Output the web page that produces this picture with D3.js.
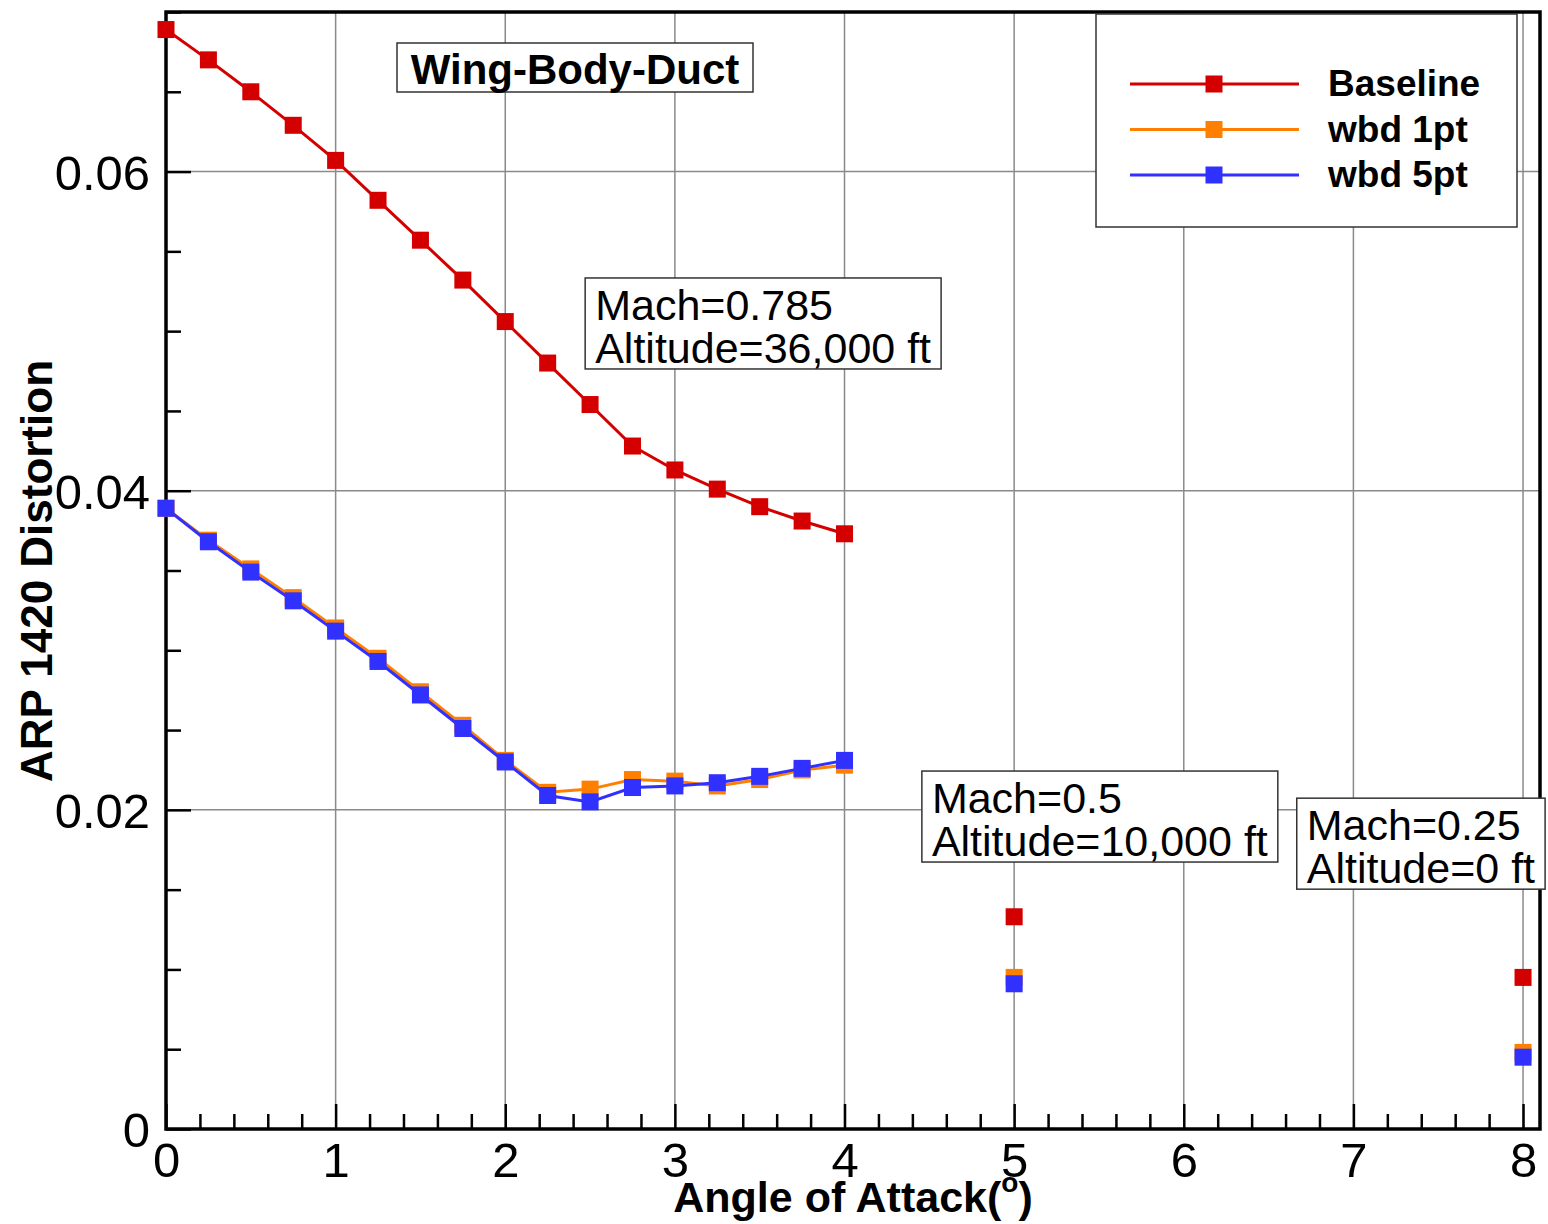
<!DOCTYPE html>
<html>
<head>
<meta charset="utf-8">
<script src="https://cdn.jsdelivr.net/npm/d3@7"></script>
<style>
  body { margin: 0; background: #fff; }
  text { font-family: "Liberation Sans", Arial, Helvetica, sans-serif; }
</style>
</head>
<body>
<svg id="chart" width="1548" height="1224"></svg>
<script>

// angle sweep at cruise (Mach 0.785)
const sweepAoA = [0, 0.25, 0.5, 0.75, 1, 1.25, 1.5, 1.75, 2, 2.25, 2.5, 2.75, 3, 3.25, 3.5, 3.75, 4];
const baseline = [0.0689, 0.0670, 0.0650, 0.0629, 0.0607, 0.0582, 0.0557, 0.0532, 0.0506, 0.0480, 0.0454, 0.0428, 0.0413, 0.0401, 0.0390, 0.0381, 0.0373];
const wbd1pt   = [0.0389, 0.0369, 0.0351, 0.0333, 0.0314, 0.0295, 0.0274, 0.0253, 0.0231, 0.0211, 0.0213, 0.0219, 0.0218, 0.0215, 0.0219, 0.0225, 0.0228];
const wbd5pt   = [0.0389, 0.0368, 0.0349, 0.0331, 0.0312, 0.0293, 0.0272, 0.0251, 0.0230, 0.0209, 0.0205, 0.0214, 0.0215, 0.0217, 0.0221, 0.0226, 0.0231];

// single off-design points (Mach 0.5 and Mach 0.25)
const pointAoA       = [5, 8];
const baselinePts    = [0.0133, 0.0095];
const wbd1ptPts      = [0.0095, 0.0048];
const wbd5ptPts      = [0.0091, 0.0045];

const seriesNames  = ["Baseline", "wbd 1pt", "wbd 5pt"];
const seriesColors = ["#d40000", "#ff8000", "#3030ff"];

const xMajor = [0, 1, 2, 3, 4, 5, 6, 7, 8];
const yMajor = [0, 0.02, 0.04, 0.06];

const annotations = [
  { lines: ["Mach=0.785", "Altitude=36,000 ft"], x: 2.53, y: 0.0507 },
  { lines: ["Mach=0.5", "Altitude=10,000 ft"], x: 4.515, y: 0.0198 },
  { lines: ["Mach=0.25", "Altitude=0 ft"], x: 6.725, y: 0.0181 }
];

const svg = d3.select("#chart");

const plotLeft = 166, plotRight = 1540, plotTop = 12, plotBottom = 1129;

const xScale = d3.scaleLinear().domain([0, 8.1]).range([plotLeft, plotRight]);
const yScale = d3.scaleLinear().domain([0, 0.07]).range([plotBottom, plotTop]);

const gridColor = "#8a8a8a";

// grid
svg.append("g")
  .selectAll("line")
  .data(xMajor.filter(d => d > 0))
  .join("line")
    .attr("x1", d => xScale(d))
    .attr("x2", d => xScale(d))
    .attr("y1", plotTop)
    .attr("y2", plotBottom)
    .attr("stroke", gridColor)
    .attr("stroke-width", 1.5);

svg.append("g")
  .selectAll("line")
  .data(yMajor.filter(d => d > 0))
  .join("line")
    .attr("x1", plotLeft)
    .attr("x2", plotRight)
    .attr("y1", d => yScale(d))
    .attr("y2", d => yScale(d))
    .attr("stroke", gridColor)
    .attr("stroke-width", 1.5);

// axes: ticks point inward
const xMinor = d3.range(0, 8.01, 0.2).filter(d => Math.abs(d - Math.round(d)) > 1e-6);
const yMinor = d3.range(0, 0.0701, 0.005).filter(d => Math.abs(d / 0.02 - Math.round(d / 0.02)) > 1e-6);

const xAxis = svg.append("g")
  .attr("transform", `translate(0, ${plotBottom})`)
  .call(d3.axisBottom(xScale).tickValues(xMajor).tickSize(-25).tickFormat(d3.format("d")));

svg.append("g")
  .attr("transform", `translate(0, ${plotBottom})`)
  .call(d3.axisBottom(xScale).tickValues(xMinor).tickSize(-15).tickFormat(""))
  .call(g => g.select(".domain").remove());

const yAxis = svg.append("g")
  .attr("transform", `translate(${plotLeft}, 0)`)
  .call(d3.axisLeft(yScale).tickValues(yMajor).tickSize(-25).tickFormat(d => d === 0 ? "0" : d3.format(".2f")(d)));

svg.append("g")
  .attr("transform", `translate(${plotLeft}, 0)`)
  .call(d3.axisLeft(yScale).tickValues(yMinor).tickSize(-15).tickFormat(""))
  .call(g => g.select(".domain").remove());

svg.selectAll(".tick line").attr("stroke", "#000").attr("stroke-width", 2.5);

xAxis.selectAll(".tick text")
  .attr("y", 48)
  .attr("dy", null)
  .attr("font-size", 49)
  .attr("fill", "#000");

yAxis.selectAll(".tick text")
  .attr("x", -16)
  .attr("dy", "0.36em")
  .attr("font-size", 49)
  .attr("fill", "#000");

svg.selectAll(".domain").remove();

// frame
svg.append("rect")
  .attr("x", plotLeft)
  .attr("y", plotTop)
  .attr("width", plotRight - plotLeft)
  .attr("height", plotBottom - plotTop)
  .attr("fill", "none")
  .attr("stroke", "#000")
  .attr("stroke-width", 3.5);

// axis titles
const xTitle = svg.append("text")
  .attr("x", 853)
  .attr("y", 1212)
  .attr("text-anchor", "middle")
  .attr("font-size", 43)
  .attr("font-weight", "bold")
  .text("Angle of Attack(");
xTitle.append("tspan")
  .attr("dy", -20)
  .attr("font-size", 28)
  .text("o");
xTitle.append("tspan")
  .attr("dy", 20)
  .text(")");

svg.append("text")
  .attr("transform", "translate(52, 571) rotate(-90)")
  .attr("text-anchor", "middle")
  .attr("font-size", 44)
  .attr("font-weight", "bold")
  .text("ARP 1420 Distortion");

// data
const sweepSets = [baseline, wbd1pt, wbd5pt];
const pointSets = [baselinePts, wbd1ptPts, wbd5ptPts];
const markerSize = 17;

const line = d3.line()
  .x(d => xScale(d[0]))
  .y(d => yScale(d[1]));

sweepSets.forEach((vals, i) => {
  const sweep = sweepAoA.map((a, j) => [a, vals[j]]);
  const pts = pointAoA.map((a, j) => [a, pointSets[i][j]]);
  const g = svg.append("g");

  g.append("path")
    .datum(sweep)
    .attr("d", line)
    .attr("fill", "none")
    .attr("stroke", seriesColors[i])
    .attr("stroke-width", 3);

  g.selectAll("rect")
    .data(sweep.concat(pts))
    .join("rect")
      .attr("x", d => xScale(d[0]) - markerSize / 2)
      .attr("y", d => yScale(d[1]) - markerSize / 2)
      .attr("width", markerSize)
      .attr("height", markerSize)
      .attr("fill", seriesColors[i]);
});

// title box
const titleG = svg.append("g");
titleG.append("rect")
  .attr("x", 397).attr("y", 43)
  .attr("width", 356).attr("height", 49)
  .attr("fill", "#fff")
  .attr("stroke", "#333")
  .attr("stroke-width", 1.5);
titleG.append("text")
  .attr("x", 575).attr("y", 84)
  .attr("text-anchor", "middle")
  .attr("font-size", 42)
  .attr("font-weight", "bold")
  .text("Wing-Body-Duct");

// flight condition boxes
annotations.forEach(a => {
  const tx = xScale(a.x);
  const ty = yScale(a.y);
  const g = svg.append("g");
  const rect = g.append("rect")
    .attr("fill", "#fff")
    .attr("stroke", "#333")
    .attr("stroke-width", 1.5);
  const text = g.append("text")
    .attr("font-size", 43);
  a.lines.forEach((l, k) => {
    text.append("tspan")
      .attr("x", tx)
      .attr("y", ty + k * 43)
      .text(l);
  });
  const bb = text.node().getBBox();
  rect.attr("x", tx - 10)
    .attr("y", ty - 42)
    .attr("width", bb.width + 20)
    .attr("height", 91);
});

// legend
const legend = svg.append("g");
legend.append("rect")
  .attr("x", 1096).attr("y", 14)
  .attr("width", 421).attr("height", 213)
  .attr("fill", "#fff")
  .attr("stroke", "#333")
  .attr("stroke-width", 1.5);

seriesNames.forEach((name, i) => {
  const ly = 84 + i * 45.5;
  legend.append("line")
    .attr("x1", 1130).attr("x2", 1299)
    .attr("y1", ly).attr("y2", ly)
    .attr("stroke", seriesColors[i])
    .attr("stroke-width", 3);
  legend.append("rect")
    .attr("x", 1214 - markerSize / 2).attr("y", ly - markerSize / 2)
    .attr("width", markerSize).attr("height", markerSize)
    .attr("fill", seriesColors[i]);
  legend.append("text")
    .attr("x", 1328).attr("y", ly + 12)
    .attr("font-size", 37)
    .attr("font-weight", "bold")
    .text(name);
});

</script>
</body>
</html>
